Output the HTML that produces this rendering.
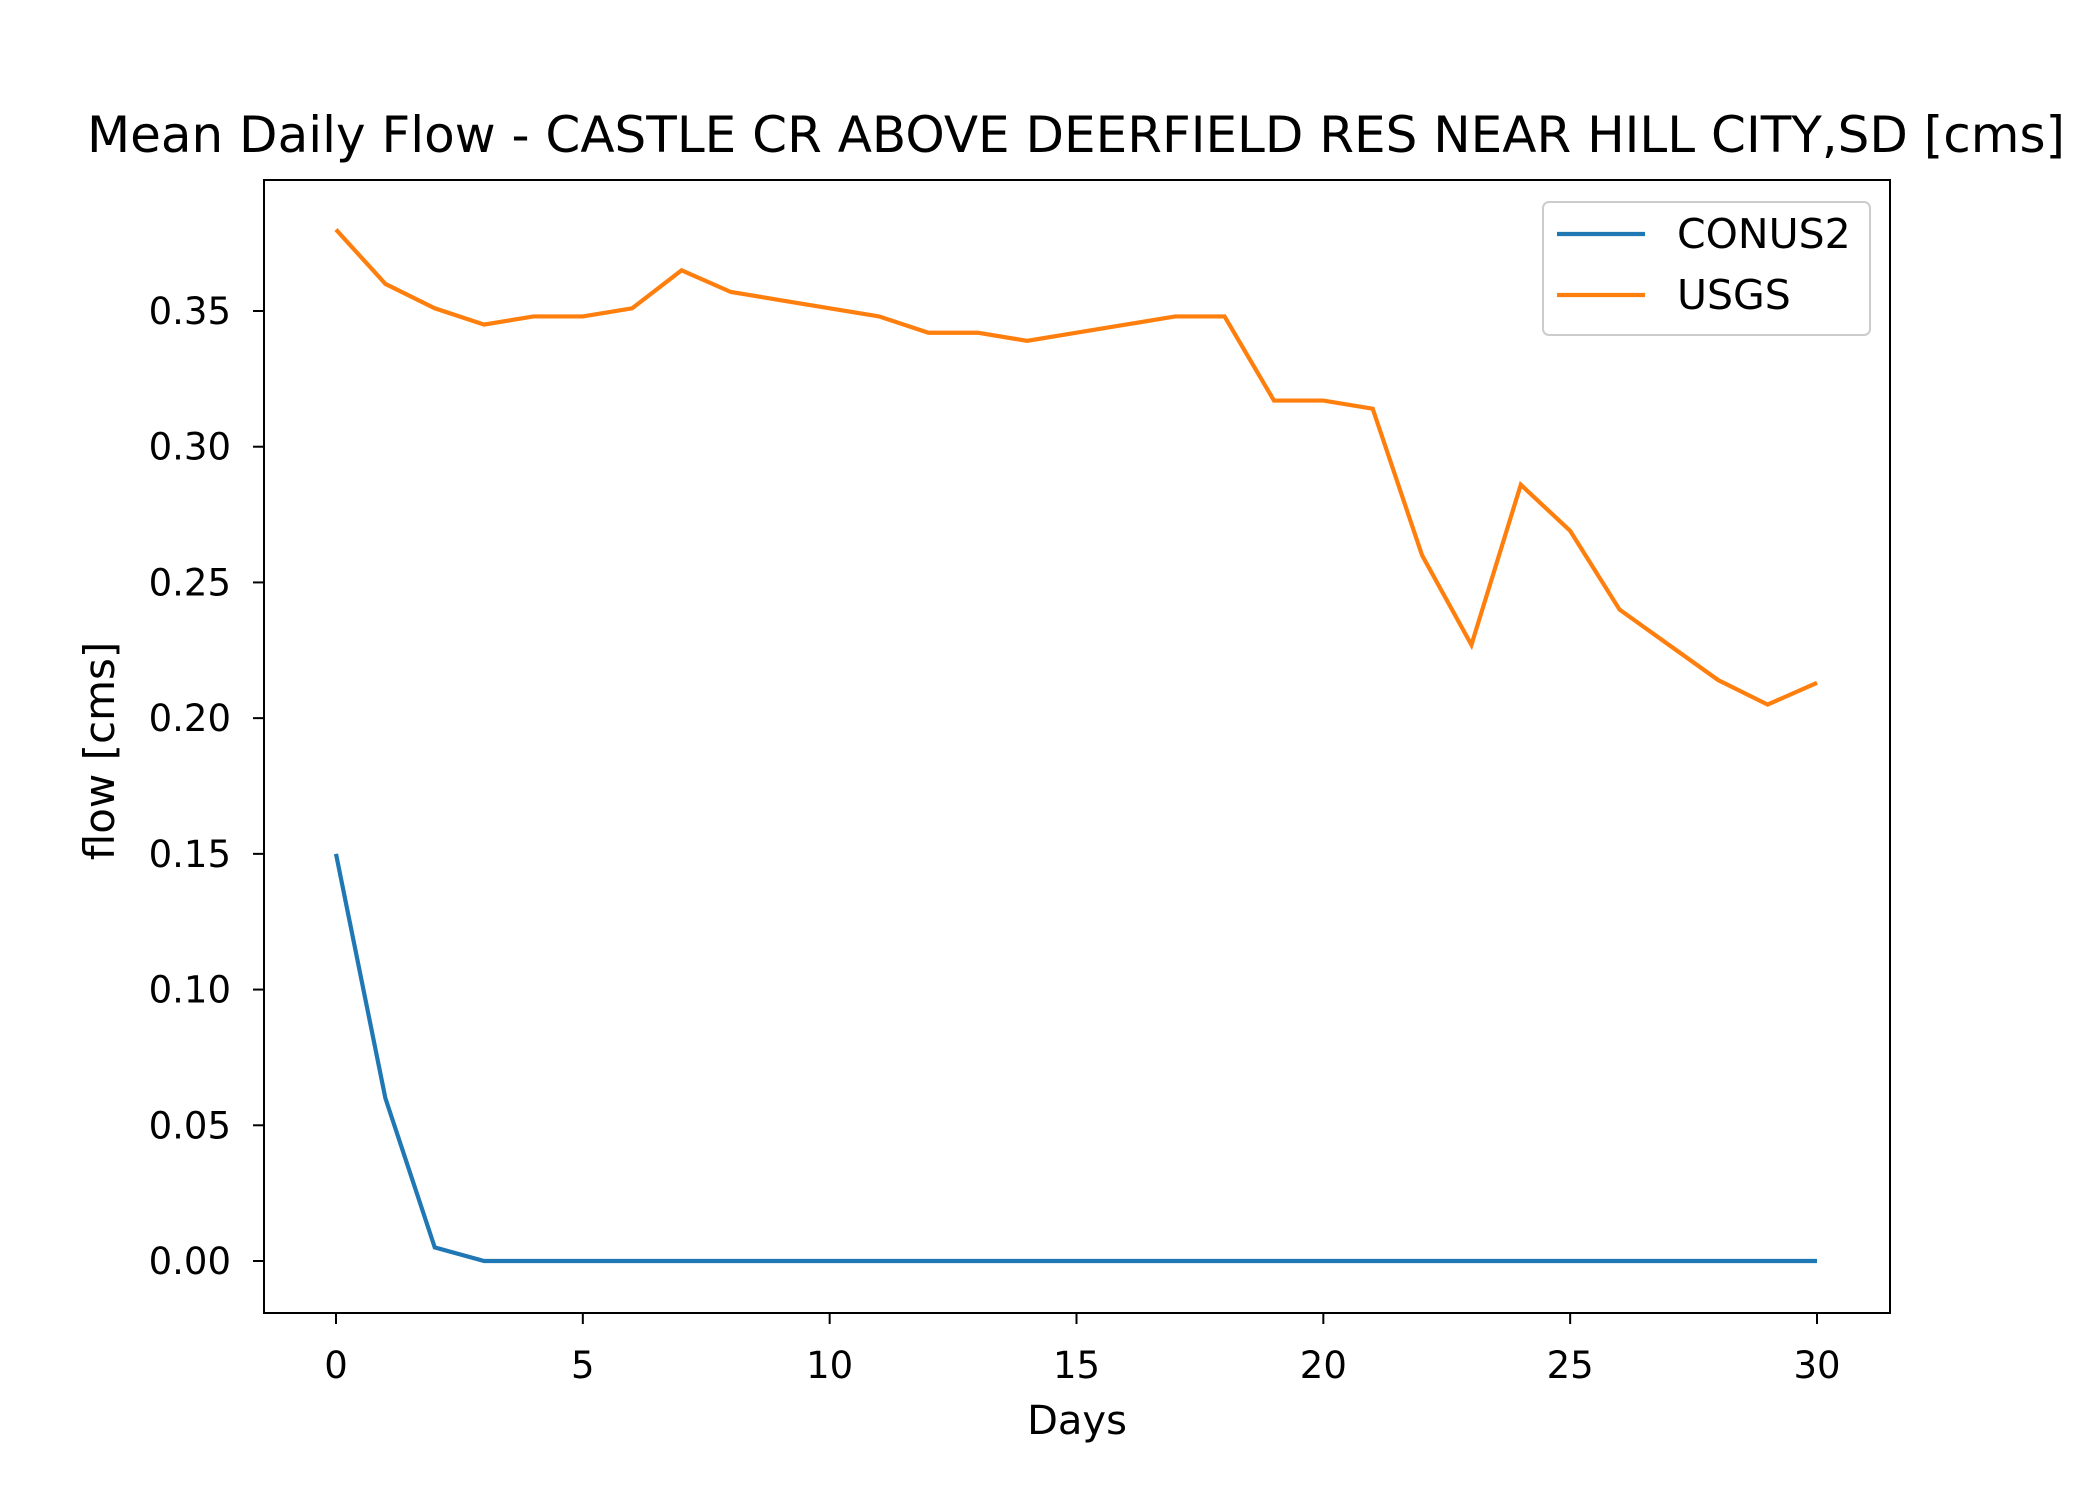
<!DOCTYPE html>
<html><head><meta charset="utf-8"><style>body{margin:0;background:#fff}svg{display:block}text{font-family:"DejaVu Sans","Liberation Sans",sans-serif;fill:#000}</style></head>
<body>
<svg id="chart" width="2100" height="1500" xmlns="http://www.w3.org/2000/svg"></svg>
<script>
const days=[0,1,2,3,4,5,6,7,8,9,10,11,12,13,14,15,16,17,18,19,20,21,22,23,24,25,26,27,28,29,30];
const conus2=[0.15,0.06,0.005,0,0,0,0,0,0,0,0,0,0,0,0,0,0,0,0,0,0,0,0,0,0,0,0,0,0,0,0];
const usgs=[0.38,0.36,0.351,0.345,0.348,0.348,0.351,0.365,0.357,0.354,0.351,0.348,0.342,0.342,0.339,0.342,0.345,0.348,0.348,0.317,0.317,0.314,0.26,0.227,0.286,0.269,0.24,0.227,0.214,0.205,0.213];
const xTicks=[0,5,10,15,20,25,30];
const yTicks=[0,0.05,0.10,0.15,0.20,0.25,0.30,0.35];
const L=264,R=1890,T=180,B=1313;
const sx=d=>336+(d-0)*(1817-336)/30;
const sy=v=>1261-v*(1261-311)/0.35;
const svg=document.getElementById('chart');
const NS='http://www.w3.org/2000/svg';
function mk(tag,attrs,parent){const e=document.createElementNS(NS,tag);for(const k in attrs)e.setAttribute(k,attrs[k]);(parent||svg).appendChild(e);return e;}
let t=mk('text',{x:1076,y:152,'font-size':50,'text-anchor':'middle'});t.textContent='Mean Daily Flow - CASTLE CR ABOVE DEERFIELD RES NEAR HILL CITY,SD [cms]';


xTicks.forEach(d=>{const g=mk('g',{});


mk('line',{x1:sx(d),x2:sx(d),y1:B,y2:B+11,stroke:'#000','stroke-width':2},g);
const tx=mk('text',{x:sx(d),y:1378,'font-size':37,'text-anchor':'middle'},g);tx.textContent=String(d);});
yTicks.forEach(v=>{const g=mk('g',{});


mk('line',{x1:L-11,x2:L,y1:sy(v),y2:sy(v),stroke:'#000','stroke-width':2},g);
const tx=mk('text',{x:L-33,y:sy(v)+13,'font-size':37,'text-anchor':'end'},g);tx.textContent=v.toFixed(2);});
function series(vals,color,name){const p=mk('polyline',{points:vals.map((v,i)=>sx(days[i])+','+sy(v)).join(' '),fill:'none',stroke:color,'stroke-width':4.2,'stroke-linejoin':'miter'});

}
series(conus2,'#1f77b4','conus2-line');
series(usgs,'#ff7f0e','usgs-line');
const fr=mk('rect',{x:L,y:T,width:R-L,height:B-T,fill:'none',stroke:'#000','stroke-width':2});


let xl=mk('text',{x:1077,y:1434,'font-size':40,'text-anchor':'middle'});xl.textContent='Days';


let yl=mk('text',{x:0,y:0,'font-size':42,'text-anchor':'middle',transform:'translate(114,751) rotate(-90)'});yl.textContent='flow [cms]';


const lg=mk('g',{});


mk('rect',{x:1543,y:202,width:327,height:133,rx:6,fill:'#fff','fill-opacity':0.8,stroke:'#ccc','stroke-width':2},lg);
[['CONUS2','#1f77b4',234],['USGS','#ff7f0e',295]].forEach(([n,c,y])=>{const e=mk('g',{},lg);


mk('line',{x1:1557,x2:1645,y1:y,y2:y,stroke:c,'stroke-width':4.2},e);
const tx=mk('text',{x:1677,y:y+14,'font-size':41},e);tx.textContent=n;});
</script>
</body></html>
